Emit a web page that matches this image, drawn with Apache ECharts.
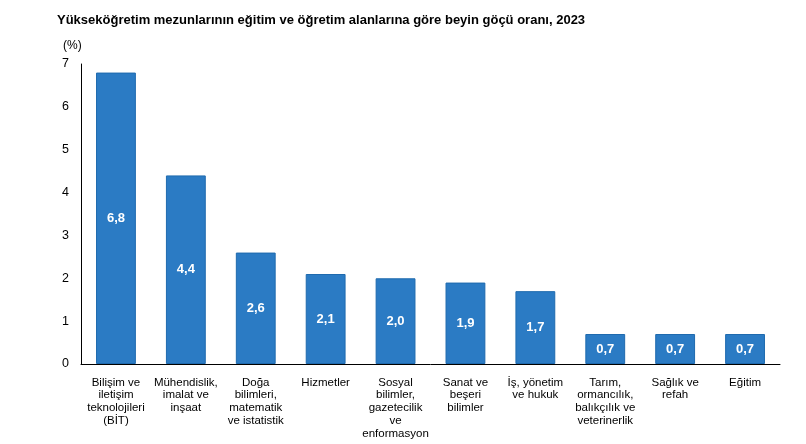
<!DOCTYPE html>
<html>
<head>
<meta charset="utf-8">
<script src="https://cdn.jsdelivr.net/npm/echarts@6/dist/echarts.min.js"></script>
<style>
html,body{margin:0;padding:0;background:#fff;}
#chart{width:806px;height:444px;}
</style>
</head>
<body>
<div id="chart"></div>
<script>
const categories = [
  "Bilişim ve\niletişim\nteknolojileri\n(BİT)",
  "Mühendislik,\nimalat ve\ninşaat",
  "Doğa\nbilimleri,\nmatematik\nve istatistik",
  "Hizmetler",
  "Sosyal\nbilimler,\ngazetecilik\nve\nenformasyon",
  "Sanat ve\nbeşeri\nbilimler",
  "İş, yönetim\nve hukuk",
  "Tarım,\normancılık,\nbalıkçılık ve\nveterinerlik",
  "Sağlık ve\nrefah",
  "Eğitim"
];
const values = [6.8, 4.4, 2.6, 2.1, 2.0, 1.9, 1.7, 0.7, 0.7, 0.7];
const yTicks = [0, 1, 2, 3, 4, 5, 6, 7];

const chart = echarts.init(document.getElementById('chart'));
chart.setOption({
  animation: false,
  backgroundColor: '#ffffff',
  title: [
    {
      text: 'Yükseköğretim mezunlarının eğitim ve öğretim alanlarına göre beyin göçü oranı, 2023',
      left: 52, top: 9,
      textStyle: { fontFamily: 'Liberation Sans, Arial, sans-serif', fontSize: 13, fontWeight: 'bold', color: '#000' }
    },
    {
      text: '(%)',
      left: 58, top: 35,
      textStyle: { fontFamily: 'Liberation Sans, Arial, sans-serif', fontSize: 12, fontWeight: 'normal', color: '#000' }
    }
  ],
  grid: { left: 81, right: 26, top: 64, bottom: 80, containLabel: false },
  xAxis: {
    type: 'category',
    data: categories,
    axisLine: { show: true, lineStyle: { color: '#000', width: 1 } },
    axisTick: { show: false },
    axisLabel: {
      interval: 0,
      margin: 12,
      fontFamily: 'Liberation Sans, Arial, sans-serif',
      fontSize: 11.5,
      lineHeight: 12.8,
      color: '#000'
    }
  },
  yAxis: {
    type: 'value',
    min: yTicks[0], max: yTicks[yTicks.length - 1], interval: 1,
    axisLine: { show: true, lineStyle: { color: '#000', width: 1 } },
    axisTick: { show: false },
    splitLine: { show: false },
    axisLabel: {
      margin: 12,
      fontFamily: 'Liberation Sans, Arial, sans-serif',
      fontSize: 12.5,
      color: '#000'
    }
  },
  series: [{
    type: 'bar',
    data: values,
    barCategoryGap: '43%',
    itemStyle: { color: '#2b7bc4', borderColor: '#1f6aae', borderWidth: 1 },
    label: {
      show: true,
      position: 'inside',
      formatter: p => p.value.toFixed(1).replace('.', ','),
      color: '#fff',
      fontWeight: 'bold',
      fontFamily: 'Liberation Sans, Arial, sans-serif',
      fontSize: 13
    }
  }]
});
</script>
</body>
</html>
